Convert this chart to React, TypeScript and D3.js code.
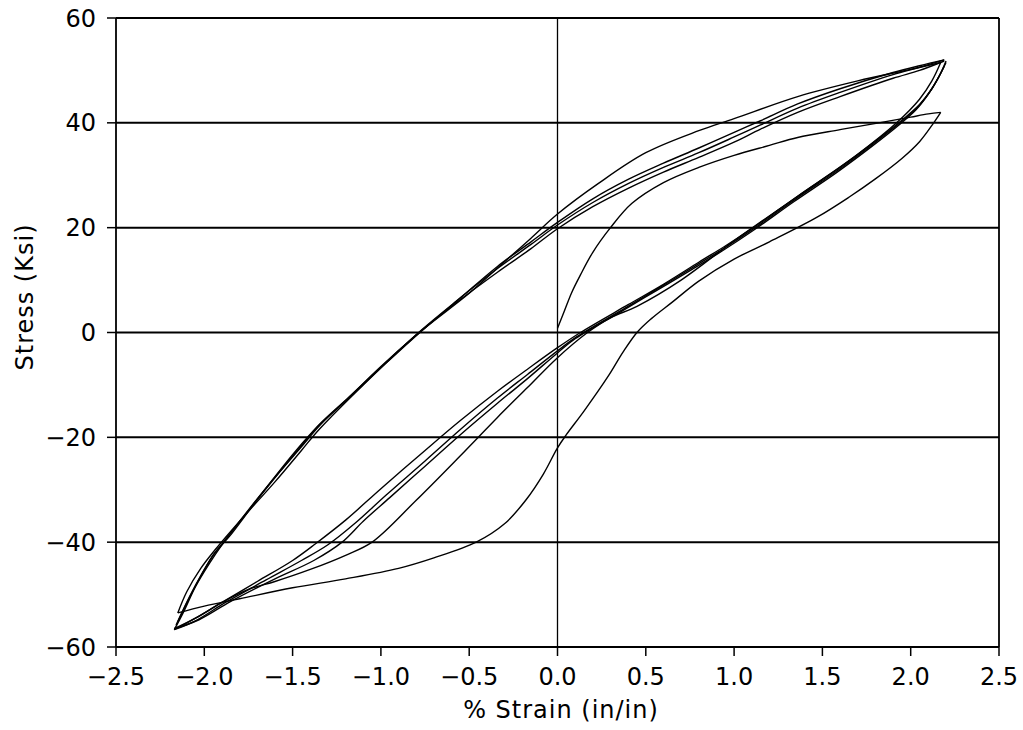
import React from "react";
import * as d3 from "d3";

type Pt = [number, number];

// strain (%), stress (ksi)
const initialLoad: Pt[] = [[0, 0.8], [0.04, 4.2], [0.08, 7.6], [0.13, 11], [0.2, 15.3], [0.3, 20], [0.42, 24.6], [0.6, 28.6], [0.8, 31.5], [1.0, 33.8], [1.2, 35.7], [1.36, 37.2], [1.6, 38.7], [1.82, 40], [2.0, 41.1], [2.1, 41.7], [2.17, 42]];

const firstUnload: Pt[] = [[2.17, 42], [2.12, 39.5], [2.05, 36.4], [1.95, 33.2], [1.8, 29.3], [1.65, 25.8], [1.47, 22], [1.2, 17.3], [1.0, 14], [0.8, 9.8], [0.65, 5.8], [0.53, 2.6], [0.45, 0], [0.37, -3.8], [0.29, -8.2], [0.15, -15], [0.05, -19.5], [0, -22], [-0.08, -27], [-0.18, -32], [-0.3, -36.5], [-0.46, -40], [-0.7, -43], [-0.9, -45], [-1.2, -47], [-1.5, -48.7], [-1.8, -50.8], [-2.0, -52.2], [-2.15, -53.5]];

const reload1: Pt[] = [[-2.15, -53.5], [-2.1, -49.5], [-2.02, -45], [-1.94, -41.5], [-1.8, -36], [-1.6, -28.5], [-1.45, -22.5], [-1.35, -18.5], [-1.1, -10], [-0.8, -0.5], [-0.5, 7.5], [-0.3, 13.5], [-0.15, 18], [0, 22.6], [0.23, 28.4], [0.5, 34.3], [0.8, 38.5], [1.0, 40.8], [1.36, 45], [1.7, 48], [2.0, 50.2], [2.17, 51.5]];

const unload2: Pt[] = [[2.17, 51.5], [2.12, 48], [2.05, 44.5], [1.92, 40], [1.7, 34], [1.36, 26], [1.0, 17.5], [0.7, 10], [0.45, 5], [0.3, 2.8], [0.17, 0], [0, -4.8], [-0.17, -10.5], [-0.34, -16.2], [-0.55, -23.5], [-0.8, -32], [-1.05, -40], [-1.2, -42.5], [-1.4, -45.2], [-1.6, -47.5], [-1.75, -49], [-1.9, -51.5], [-2.05, -54.5], [-2.17, -56.5]];

const upperA: Pt[] = [[-2.17, -56.7], [-2.12, -53.5], [-2.05, -48.5], [-1.97, -44], [-1.9, -40.5], [-1.75, -34], [-1.6, -27.5], [-1.48, -22.5], [-1.36, -18], [-1.2, -13], [-1.0, -6.5], [-0.8, -0.5], [-0.6, 5], [-0.34, 11.5], [-0.15, 16], [0, 19.8], [0.2, 24], [0.4, 27.5], [0.6, 30.6], [0.8, 33.4], [1.0, 36.3], [1.15, 38.8], [1.36, 42], [1.6, 45], [1.9, 48.5], [2.05, 50], [2.19, 51.8]];
const upperB: Pt[] = [[-2.16, -55.8], [-2.1, -51.5], [-2.03, -47], [-1.95, -42.5], [-1.88, -39.5], [-1.73, -33], [-1.58, -26.8], [-1.46, -22], [-1.35, -17.6], [-1.18, -12.3], [-0.98, -6], [-0.78, 0.2], [-0.58, 5.8], [-0.34, 12.2], [-0.15, 16.8], [0, 20.5], [0.2, 24.8], [0.4, 28.4], [0.6, 31.5], [0.8, 34.3], [1.0, 37.3], [1.15, 39.6], [1.36, 42.8], [1.6, 45.8], [1.9, 49.2], [2.05, 50.6], [2.19, 52]];
const upperC: Pt[] = [[-2.15, -55.2], [-2.09, -51], [-2.02, -46.5], [-1.94, -42], [-1.86, -39], [-1.72, -32.8], [-1.57, -26.5], [-1.45, -21.8], [-1.34, -17.5], [-1.16, -11.8], [-0.96, -5.5], [-0.76, 0.6], [-0.56, 6.3], [-0.34, 12.6], [-0.15, 17.3], [0, 21], [0.2, 25.5], [0.4, 29.2], [0.6, 32.3], [0.8, 35.2], [1.0, 38.2], [1.15, 40.4], [1.36, 43.6], [1.6, 46.5], [1.9, 49.6], [2.05, 50.9], [2.19, 52]];

const lowerA: Pt[] = [[2.2, 51.8], [2.17, 49.5], [2.12, 46.5], [2.05, 43.5], [1.95, 40.5], [1.8, 36.5], [1.6, 31.5], [1.36, 26], [1.13, 20.5], [0.95, 16.5], [0.8, 13.4], [0.6, 9.2], [0.4, 5.3], [0.13, 0], [0, -2.9], [-0.17, -7], [-0.34, -11.2], [-0.55, -16.8], [-0.75, -22.5], [-1.0, -29.8], [-1.2, -35.8], [-1.37, -40.3], [-1.5, -43.5], [-1.7, -47.5], [-1.9, -51.5], [-2.05, -54.5], [-2.17, -56.7]];
const lowerB: Pt[] = [[2.2, 51.5], [2.16, 48.8], [2.11, 46], [2.04, 43], [1.94, 40], [1.79, 36], [1.59, 31], [1.35, 25.5], [1.12, 20], [0.94, 16], [0.78, 12.7], [0.58, 8.6], [0.38, 4.6], [0.11, -0.8], [0, -3.5], [-0.17, -8], [-0.34, -12.5], [-0.55, -18.5], [-0.75, -24.5], [-0.97, -31], [-1.15, -36.5], [-1.3, -40.5], [-1.45, -43.5], [-1.65, -47.2], [-1.88, -51.5], [-2.05, -55], [-2.17, -56.7]];
const lowerC: Pt[] = [[2.19, 50.8], [2.15, 48.2], [2.1, 45.5], [2.03, 42.5], [1.93, 39.5], [1.78, 35.5], [1.58, 30.5], [1.34, 25], [1.11, 19.5], [0.93, 15.5], [0.76, 12], [0.56, 8], [0.36, 4], [0.1, -1.2], [0, -3.9], [-0.17, -8.8], [-0.34, -13.5], [-0.55, -19.5], [-0.75, -25.5], [-0.95, -31.5], [-1.1, -36], [-1.22, -40], [-1.38, -43.5], [-1.6, -47], [-1.85, -51.3], [-2.03, -54.8], [-2.17, -56.5]];

const branches: Pt[][] = [initialLoad, firstUnload, reload1, unload2, upperA, upperB, upperC, lowerA, lowerB, lowerC];

const xTicks = [-2.5, -2.0, -1.5, -1.0, -0.5, 0.0, 0.5, 1.0, 1.5, 2.0, 2.5];
const yTicks = [-60, -40, -20, 0, 20, 40, 60];
const xTitle = "% Strain (in/in)";
const yTitle = "Stress (Ksi)";

const W = 1023;
const H = 730;
const FONT = "'DejaVu Sans', sans-serif";

export default function App() {
  const x = d3.scaleLinear().domain([-2.5, 2.5]).range([116, 999]);
  const y = d3.scaleLinear().domain([-60, 60]).range([647, 18]);
  const line = d3
    .line<Pt>()
    .x((d) => x(d[0]))
    .y((d) => y(d[1]))
    .curve(d3.curveCatmullRom.alpha(0.5));

  const fmtX = (v: number) => (v < 0 ? "\u2212" : "") + Math.abs(v).toFixed(1);
  const fmtY = (v: number) => (v < 0 ? "\u2212" : "") + Math.abs(v).toString();

  return (
    <svg width={W} height={H} style={{ position: "absolute", left: 0, top: 0, background: "#fff" }}>
      <rect x={0} y={0} width={W} height={H} fill="#fff" />
      {yTicks.map((t) => (
        <line key={"gy" + t} x1={x(-2.5)} x2={x(2.5)} y1={y(t)} y2={y(t)} stroke="#000" strokeWidth={2} />
      ))}
      <line x1={x(-2.5)} x2={x(-2.5)} y1={y(60)} y2={y(-60)} stroke="#000" strokeWidth={1.8} />
      <line x1={x(2.5)} x2={x(2.5)} y1={y(60)} y2={y(-60)} stroke="#000" strokeWidth={1.8} />
      <line x1={x(0)} x2={x(0)} y1={y(60)} y2={y(-60)} stroke="#000" strokeWidth={1.3} />
      {yTicks.map((t) => (
        <line key={"ty" + t} x1={x(-2.5) - 9} x2={x(-2.5)} y1={y(t)} y2={y(t)} stroke="#000" strokeWidth={1.5} />
      ))}
      {xTicks.map((t) => (
        <line key={"tx" + t} x1={x(t)} x2={x(t)} y1={y(-60)} y2={y(-60) + 9} stroke="#000" strokeWidth={1.5} />
      ))}
      {branches.map((b, i) => (
        <path key={"b" + i} d={line(b) || ""} fill="none" stroke="#000" strokeWidth={1.4} strokeLinejoin="round" />
      ))}
      {yTicks.map((t) => (
        <text key={"ly" + t} x={x(-2.5) - 20} y={y(t)} dy="0.36em" textAnchor="end" fontFamily={FONT} fontSize={24} fill="#000">
          {fmtY(t)}
        </text>
      ))}
      {xTicks.map((t) => (
        <text key={"lx" + t} x={x(t)} y={685} textAnchor="middle" fontFamily={FONT} fontSize={24} fill="#000">
          {fmtX(t)}
        </text>
      ))}
      <text x={561} y={718} textAnchor="middle" fontFamily={FONT} fontSize={24} letterSpacing={1} fill="#000">
        {xTitle}
      </text>
      <text transform={`translate(33,297) rotate(-90)`} textAnchor="middle" fontFamily={FONT} fontSize={24} letterSpacing={1} fill="#000">
        {yTitle}
      </text>
    </svg>
  );
}
